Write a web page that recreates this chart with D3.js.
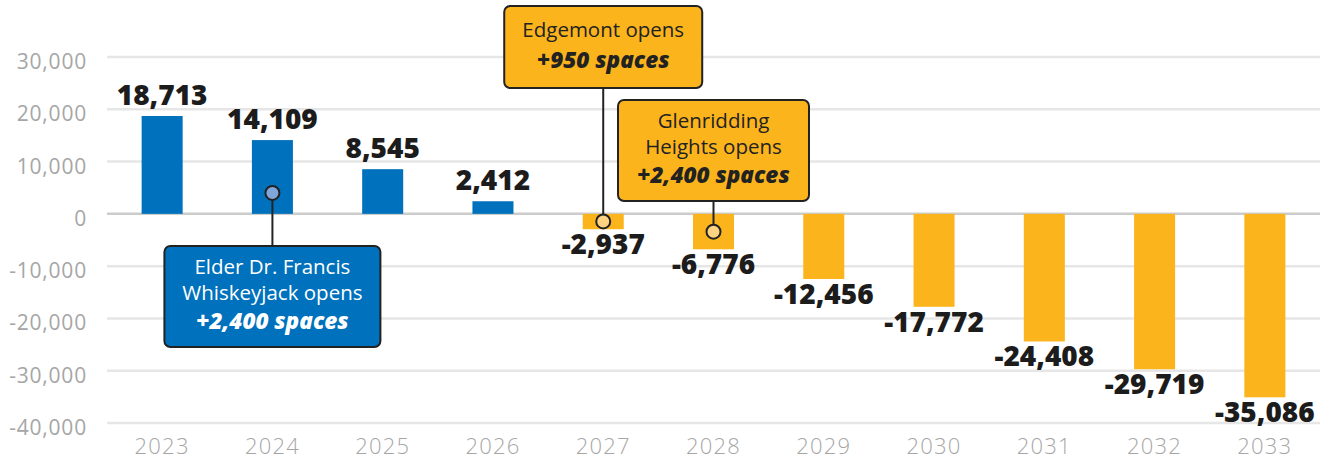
<!DOCTYPE html>
<html>
<head>
<meta charset="utf-8">
<script src="https://cdn.jsdelivr.net/npm/d3@7"></script>
<style>
  html, body { margin: 0; padding: 0; background: #fff; }
  svg { display: block; }
</style>
</head>
<body>
<svg id="chart" width="1330" height="460"></svg>
<script>
// ---- data ----
const years = ["2023","2024","2025","2026","2027","2028","2029","2030","2031","2032","2033"];
const values = [18713, 14109, 8545, 2412, -2937, -6776, -12456, -17772, -24408, -29719, -35086];
const yTicks = [-40000, -30000, -20000, -10000, 0, 10000, 20000, 30000];

const annotationYears = ["2024", "2027", "2028"];
const annotationDotValues = [4000, -1450, -3400];
const annotationLines = [
  ["Elder Dr. Francis", "Whiskeyjack opens"],
  ["Edgemont opens"],
  ["Glenridding", "Heights opens"]
];
const annotationBold = ["+2,400 spaces", "+950 spaces", "+2,400 spaces"];

// ---- layout / style ----
const W = 1330, H = 460;
const left = 107, right = 1320;
const BLUE = "#0071bc", YELLOW = "#fbb41c";
const boxLayout = [
  { top: 246, width: 216, fill: BLUE, text: "#fff", dot: "#7fa6da" },
  { top: 6,   width: 198, fill: YELLOW, text: "#222", dot: "#fdd382" },
  { top: 100, width: 191, fill: YELLOW, text: "#222", dot: "#fdd382" }
];
const FONT = "'Open Sans', 'Noto Sans', sans-serif";

const svg = d3.select("#chart");

const x = d3.scaleBand().domain(years).range([left, right])
  .paddingInner(0.628).paddingOuter(0.314);
const y = d3.scaleLinear().domain([-40000, 30000]).range([423, 57]);

const fmt = v => d3.format(",")(v).replace("\u2212", "-");

// gridlines
svg.append("g").selectAll("line").data(yTicks.filter(d => d !== 0)).join("line")
  .attr("x1", left).attr("x2", right)
  .attr("y1", d => y(d)).attr("y2", d => y(d))
  .attr("stroke", "#e6e6e6").attr("stroke-width", 2.5);

// zero line
svg.append("line")
  .attr("x1", left).attr("x2", right)
  .attr("y1", y(0)).attr("y2", y(0))
  .attr("stroke", "#cccccc").attr("stroke-width", 2.5);

// y tick labels
svg.append("g").selectAll("text").data(yTicks).join("text")
  .attr("x", 87).attr("y", d => y(d) + 12)
  .attr("text-anchor", "end")
  .attr("font-family", FONT).attr("font-size", 21)
  .attr("letter-spacing", 0.8)
  .attr("fill", "#a6a6a6")
  .text(d => fmt(d));

// x labels
svg.append("g").selectAll("text").data(years).join("text")
  .attr("x", d => x(d) + x.bandwidth() / 2).attr("y", 454)
  .attr("text-anchor", "middle")
  .attr("font-family", FONT).attr("font-size", 22).attr("font-weight", 300)
  .attr("letter-spacing", 1.2)
  .attr("fill", "#a6a6a6")
  .text(d => d);

// bars
const data = years.map((yr, i) => ({ year: yr, value: values[i] }));
svg.append("g").selectAll("rect").data(data).join("rect")
  .attr("x", d => x(d.year))
  .attr("width", x.bandwidth())
  .attr("y", d => d.value >= 0 ? y(d.value) : y(0))
  .attr("height", d => Math.abs(y(d.value) - y(0)))
  .attr("fill", d => d.value >= 0 ? BLUE : YELLOW);

// value labels
svg.append("g").selectAll("text").data(data).join("text")
  .attr("x", d => x(d.year) + x.bandwidth() / 2)
  .attr("y", d => d.value >= 0 ? y(d.value) - 11 : y(d.value) + 25)
  .attr("text-anchor", "middle")
  .attr("font-family", FONT).attr("font-weight", 800)
  .attr("font-size", 28).attr("fill", "#1c1c1c")
  .text(d => fmt(d.value));

// annotations
annotationYears.forEach((yr, i) => {
  const L = boxLayout[i];
  const cx = x(yr) + x.bandwidth() / 2;
  const cy = y(annotationDotValues[i]);
  const lines = annotationLines[i];
  const nLines = lines.length + 1;
  const boxH = nLines === 3 ? 101 : 82;
  const boxTop = L.top, boxBottom = L.top + boxH;
  const g = svg.append("g");
  const lineEnd = boxTop > cy ? boxTop : boxBottom;
  g.append("line")
    .attr("x1", cx).attr("x2", cx)
    .attr("y1", cy).attr("y2", lineEnd)
    .attr("stroke", "#222").attr("stroke-width", 2);
  g.append("rect")
    .attr("x", cx - L.width / 2).attr("y", boxTop)
    .attr("width", L.width).attr("height", boxH)
    .attr("rx", 6).attr("ry", 6)
    .attr("fill", L.fill).attr("stroke", "#222").attr("stroke-width", 2);
  const offsets = nLines === 3 ? [28, 54, 83] : [31, 62];
  lines.forEach((t, j) => {
    g.append("text")
      .attr("x", cx).attr("y", boxTop + offsets[j])
      .attr("text-anchor", "middle")
      .attr("font-family", FONT).attr("font-size", 20.5)
      .attr("fill", L.text).text(t);
  });
  g.append("text")
    .attr("x", cx).attr("y", boxTop + offsets[nLines - 1])
    .attr("text-anchor", "middle")
    .attr("font-family", FONT).attr("font-size", 22.5)
    .attr("font-weight", 800).attr("font-style", "italic")
    .attr("fill", L.text).text(annotationBold[i]);
  g.append("circle")
    .attr("cx", cx).attr("cy", cy).attr("r", 7)
    .attr("fill", L.dot).attr("stroke", "#222").attr("stroke-width", 2);
});
</script>
</body>
</html>
